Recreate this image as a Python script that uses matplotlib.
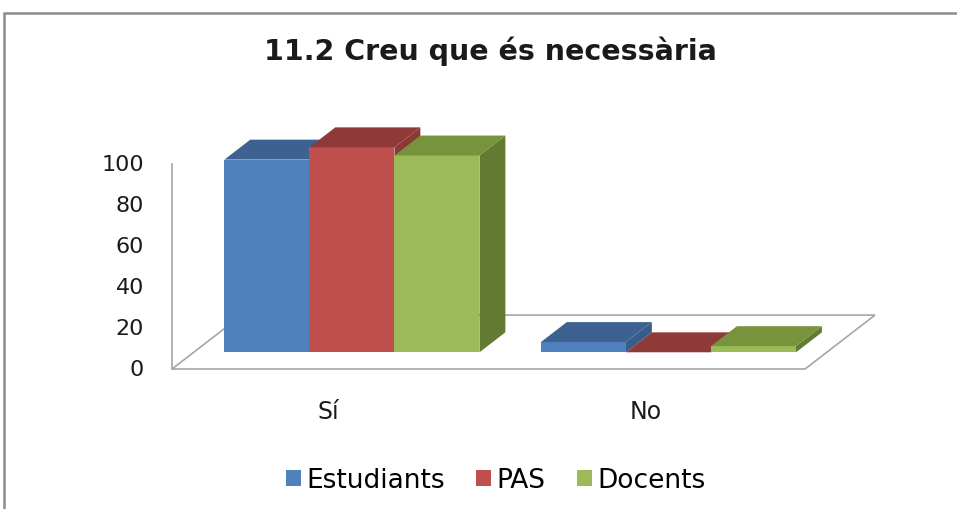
import matplotlib
matplotlib.use('Agg')
import matplotlib.pyplot as plt
from matplotlib.patches import Polygon, Rectangle, Patch

plt.rcParams['font.family'] = ['DejaVu Sans']

# data
categories = ['Sí', 'No']
series = ['Estudiants', 'PAS', 'Docents']
values = {
    'Estudiants': [94, 5],
    'PAS': [100, 0],
    'Docents': [96, 3],
}
yticks = [0, 20, 40, 60, 80, 100]
title = '11.2 Creu que és necessària'

# colours: front, top, side
front = {'Estudiants': '#4F81BD', 'PAS': '#C0504D', 'Docents': '#9BBB59'}
top = {'Estudiants': '#3D6291', 'PAS': '#8F3A38', 'Docents': '#77933C'}
side = {'Estudiants': '#385D8A', 'PAS': '#8C3836', 'Docents': '#637A33'}

# fake 3d geometry (x in category units, y in value units)
DX, DY = 0.221, 26.3          # full floor depth vector
D0, D1 = 0.31, 0.68           # bar depth range as fraction of floor depth
BAR_W = 0.2686

fig = plt.figure(figsize=(9.57, 5.10), dpi=100)
ax = fig.add_axes([0, 0, 1, 1])
ax.set_xlim(-1.0434, 1.980)
ax.set_ylim(-68.3, 180.5)
ax.axis('off')

grid_col = '#A6A6A6'
x0, x1 = -0.5, len(categories) - 0.5

# floor
floor = Polygon([(x0, 0), (x1, 0), (x1 + DX, DY), (x0 + DX, DY)],
                closed=True, facecolor='white', edgecolor=grid_col, lw=1.2, zorder=1)
ax.add_patch(floor)
# vertical axis line
ax.plot([x0, x0], [0, yticks[-1]], color=grid_col, lw=1.2, zorder=1)

for t in yticks:
    ax.text(x0 - 0.088, t, str(t), ha='right', va='center', fontsize=16,
            color='#1a1a1a')

for ci, cat in enumerate(categories):
    ax.text(ci - 0.005, -20.5, cat, ha='center', va='center', fontsize=17,
            color='#1a1a1a')
    left = ci - 1.5 * BAR_W
    for si, s in enumerate(series):
        v = values[s][ci]
        xl = left + si * BAR_W + D0 * DX
        xr = xl + BAR_W
        yb = D0 * DY
        yt = yb + v
        ddx = (D1 - D0) * DX
        ddy = (D1 - D0) * DY
        # side face
        ax.add_patch(Polygon([(xr, yb), (xr + ddx, yb + ddy), (xr + ddx, yt + ddy), (xr, yt)],
                             closed=True, facecolor=side[s], edgecolor='none', zorder=2))
        # front face
        if v > 0:
            ax.add_patch(Rectangle((xl, yb), BAR_W, v, facecolor=front[s],
                                   edgecolor='none', zorder=2))
        # top face
        ax.add_patch(Polygon([(xl, yt), (xr, yt), (xr + ddx, yt + ddy), (xl + ddx, yt + ddy)],
                             closed=True, facecolor=top[s], edgecolor='none', zorder=2))

fig.text(0.512, 1 - 60 / 510, title, ha='center', va='baseline', fontsize=20.5,
         fontweight='bold', color='#1a1a1a')

handles = [Patch(facecolor=front[s], edgecolor='none') for s in series]
fig.legend(handles, series, loc='center', bbox_to_anchor=(0.518, 0.056), ncol=3,
           frameon=False, fontsize=19, handlelength=0.57, handleheight=0.57,
           handletextpad=0.2, columnspacing=1.2)

# outer chart frame
fig.add_artist(Rectangle((4 / 957, -0.1), 1.2, 1 - 14 / 510 + 0.1,
                         transform=fig.transFigure, fill=False,
                         edgecolor='#8c8c8c', lw=1.8))

fig.savefig('out.png', dpi=100)
